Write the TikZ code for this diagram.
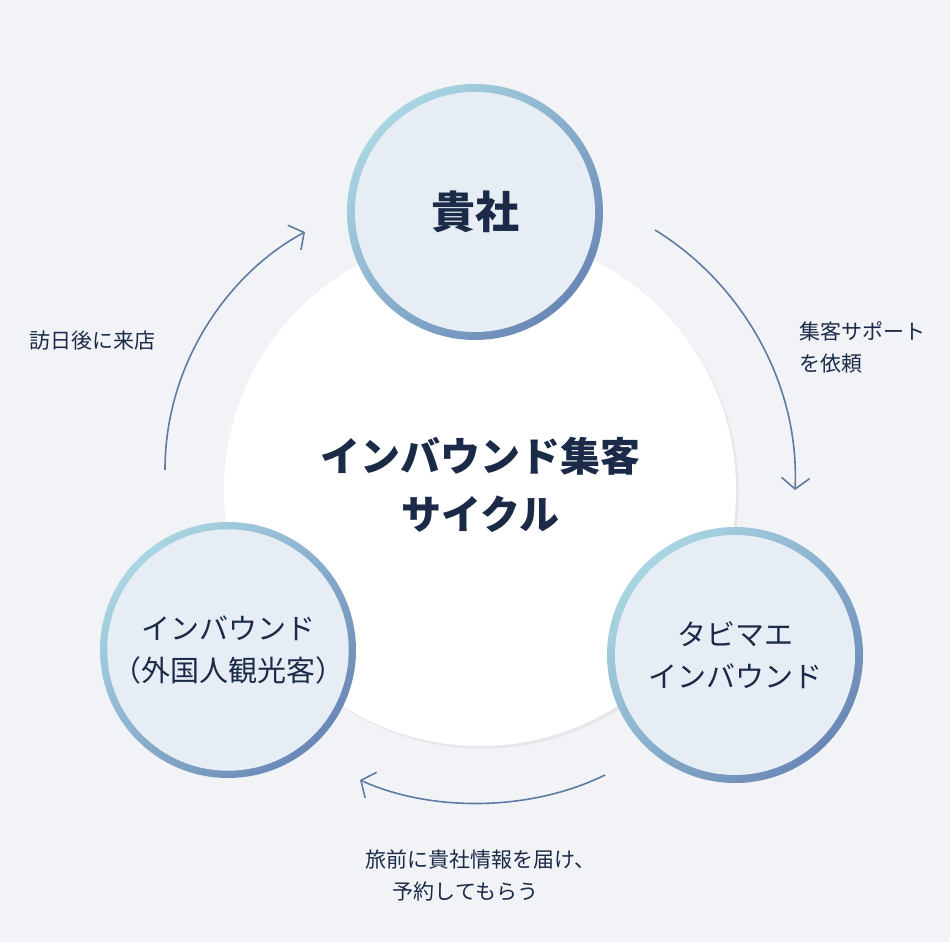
\documentclass[tikz,border=0pt]{standalone}
\usepackage{fontspec}
\setmainfont{Noto Sans CJK JP}
\usetikzlibrary{arrows.meta,shadows}
\definecolor{bg}{HTML}{F1F3F7}
\definecolor{ink}{HTML}{1B2A47}
\definecolor{ringA}{HTML}{A9D6E2}
\definecolor{ringB}{HTML}{6A88B6}
\definecolor{inner}{HTML}{E6EDF4}
\definecolor{arr}{HTML}{5F7CA0}
\tikzset{
  ring/.style={circle, minimum size=256pt, inner sep=0pt, left color=ringA, right color=ringB, shading angle=45},
  disc/.style={circle, minimum size=240pt, inner sep=0pt, fill=inner, align=center, text=ink, font=\fontsize{29}{42}\selectfont},
  cyc/.style={draw=arr, line width=1.6pt, -{Straight Barb[length=11pt,width=28pt]}},
  lbl/.style={text=ink, font=\fontsize{21}{32}\selectfont, align=left}
}
\begin{document}
\begin{tikzpicture}[x=1pt,y=1pt]
\fill[bg] (0,0) rectangle (950,942);
\useasboundingbox (0,0) rectangle (950,942);
\node[circle, minimum size=512pt, fill=white, drop shadow={opacity=0.10}] (mid) at (480,452) {};
\node[text=ink, align=center, font=\fontsize{40}{58}\selectfont\bfseries] (midt) at (480,457) {インバウンド集客\\サイクル};
\node[ring] (r1) at (475,730) {};
\node[disc, font=\fontsize{44}{50}\selectfont\bfseries] (c1) at (475,730) {貴社};
\node[ring] (r2) at (735,287) {};
\node[disc] (c2) at (735,287) {タビマエ\\インバウンド};
\node[ring] (r3) at (228,292) {};
\node[disc] (c3) at (228,292) {インバウンド\\（外国人観光客）};
\coordinate (a1) at (655,712);
\coordinate (b1) at (795,452);
\draw[cyc] (a1) .. controls (740,660) and (800,560) .. (b1);
\coordinate (a2) at (605,167);
\coordinate (b2) at (360,162);
\draw[cyc] (a2) .. controls (530,130) and (430,130) .. (b2);
\coordinate (a3) at (165,472);
\coordinate (b3) at (305,710);
\draw[cyc] (a3) .. controls (165,580) and (230,670) .. (b3);
\node[lbl, anchor=west] (l1) at (796,595) {集客サポート\\を依頼};
\node[lbl, anchor=center] (l2) at (92,601) {訪日後に来店};
\node[lbl, anchor=north west] (l3) at (362,96) {旅前に貴社情報を届け、\\\hspace*{1.3em}予約してもらう};
\end{tikzpicture}
\end{document}
